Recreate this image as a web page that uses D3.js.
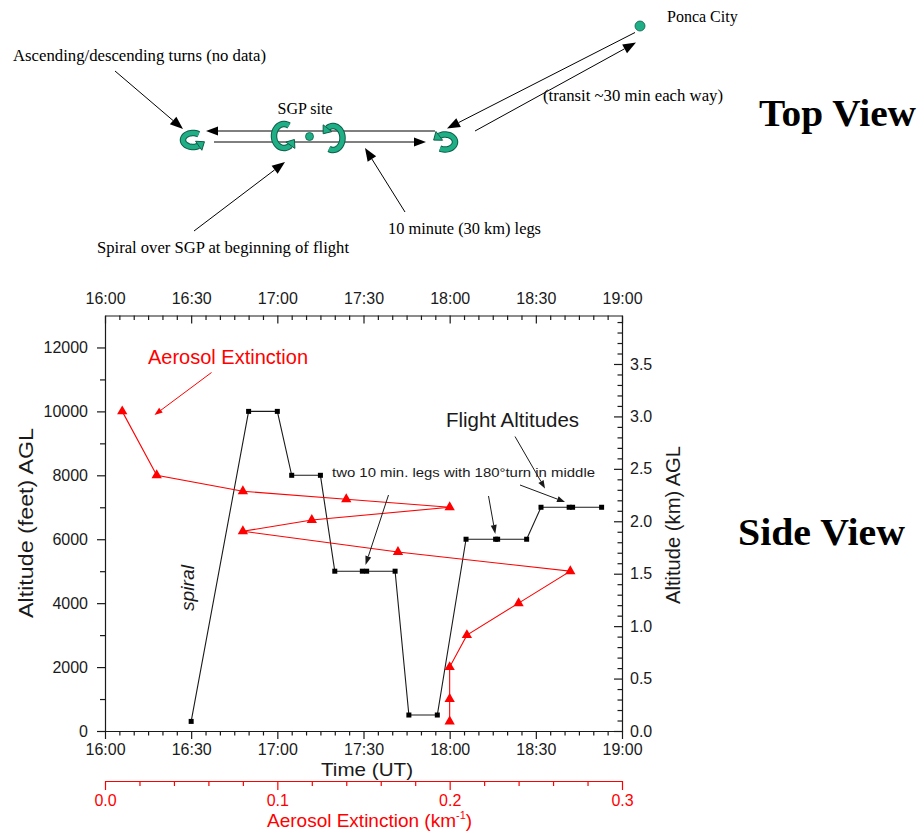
<!DOCTYPE html>
<html>
<head>
<meta charset="utf-8">
<script src="https://cdn.jsdelivr.net/npm/d3@7"></script>
<style>
  body { margin: 0; background: #fff; }
  svg { display: block; }
</style>
</head>
<body>
<svg id="fig" width="924" height="832"></svg>
<script>
// ---- Flight altitude track (time UT, altitude in feet AGL) ----
const flightTimes = [
  "16:30:00", "16:50:00", "17:00:00", "17:05:00", "17:15:00", "17:20:00",
  "17:29:36", "17:31:06", "17:41:00", "17:45:48", "17:55:42", "18:05:42",
  "18:16:00", "18:16:42", "18:26:48", "18:31:48", "18:41:36", "18:42:48", "18:52:54"
];
const flightAltFt = [
  300, 10000, 10000, 8000, 8000, 5000,
  5000, 5000, 5000, 500, 500, 6000,
  6000, 6000, 6000, 7000, 7000, 7000, 7000
];

// ---- Aerosol extinction profile (km^-1 against altitude in feet AGL) ----
const extinction = [0.01, 0.03, 0.08, 0.14, 0.20, 0.12, 0.08, 0.17, 0.27, 0.24, 0.21, 0.20, 0.20, 0.20];
const extinctionAltFt = [10000, 8000, 7500, 7250, 7000, 6600, 6250, 5600, 5000, 4000, 3000, 2000, 1000, 300];

// ---- Tick labels ----
const timeTickLabels = ["16:00", "16:30", "17:00", "17:30", "18:00", "18:30", "19:00"];
const altFtTicks = [0, 2000, 4000, 6000, 8000, 10000, 12000];
const altKmTicks = [0, 0.5, 1.0, 1.5, 2.0, 2.5, 3.0, 3.5];
const extTicks = [0, 0.1, 0.2, 0.3];

const SANS = "'Liberation Sans', Arial, Helvetica, sans-serif";
const SERIF = "'Liberation Serif', 'Times New Roman', Times, serif";
const RED = "#ff0000";
const INK = "#1a1a1a";
const TEAL = "#1fae85";
const TEAL_DARK = "#0b5e47";

const svg = d3.select("#fig");

// =====================================================================
// Top view: schematic of the flight pattern
// =====================================================================
const topView = svg.append("g").attr("class", "top-view");

function arrowLine(g, x1, y1, x2, y2, opt = {}) {
  const len = opt.len ?? 12, half = opt.half ?? 4.5, color = opt.color ?? "#000", w = opt.width ?? 1;
  const a = Math.atan2(y2 - y1, x2 - x1);
  const bx = x2 - len * Math.cos(a), by = y2 - len * Math.sin(a);
  g.append("line").attr("x1", x1).attr("y1", y1).attr("x2", bx).attr("y2", by)
    .attr("stroke", color).attr("stroke-width", w);
  const px = -Math.sin(a) * half, py = Math.cos(a) * half;
  g.append("path")
    .attr("d", `M${x2},${y2}L${bx + px},${by + py}L${bx - px},${by - py}Z`)
    .attr("fill", color);
}

// curved ribbon arrow used for the turns
function turnArrow(g, cx, cy, rx, ry, a0, a1) {
  const n = 40, pts = [];
  for (let i = 0; i <= n; i++) {
    const t = (a0 + (a1 - a0) * i / n) * Math.PI / 180;
    pts.push([cx + rx * Math.cos(t), cy + ry * Math.sin(t)]);
  }
  const headLen = 7;
  const end = pts[pts.length - 1], prev = pts[pts.length - 4];
  const ang = Math.atan2(end[1] - prev[1], end[0] - prev[0]);
  const body = pts.slice(0, pts.length - 3);
  const line = d3.line();
  g.append("path").attr("d", line(body)).attr("fill", "none")
    .attr("stroke", TEAL_DARK).attr("stroke-width", 6.5).attr("stroke-linecap", "butt");
  g.append("path").attr("d", line(body)).attr("fill", "none")
    .attr("stroke", TEAL).attr("stroke-width", 4.5).attr("stroke-linecap", "butt");
  const last = body[body.length - 1];
  const tip = [last[0] + headLen * Math.cos(ang), last[1] + headLen * Math.sin(ang)];
  const px = -Math.sin(ang) * 5.5, py = Math.cos(ang) * 5.5;
  g.append("path")
    .attr("d", `M${tip[0]},${tip[1]}L${last[0] + px},${last[1] + py}L${last[0] - px},${last[1] - py}Z`)
    .attr("fill", TEAL).attr("stroke", TEAL_DARK).attr("stroke-width", 1);
}

// legs between the turn points
arrowLine(topView, 435, 131, 206, 131, { len: 12, half: 4.5 });
arrowLine(topView, 214, 142, 426, 142, { len: 12, half: 4.5 });
// transit to/from Ponca City
arrowLine(topView, 635, 32.5, 447, 128.5, { len: 13, half: 5 });
arrowLine(topView, 475, 131, 636, 42.5, { len: 13, half: 5 });

// turns
turnArrow(topView, 193, 140, 10, 7, -55, -325);
turnArrow(topView, 284, 136, 10, 12, -60, -330);
turnArrow(topView, 333, 138, 9.5, 12, 115, -145);
turnArrow(topView, 445, 142, 10, 7.5, 120, -145);

// sites
const sites = [
  { name: "SGP site", cx: 309.5, cy: 136.5, r: 4, lx: 305, ly: 114, anchor: "middle" },
  { name: "Ponca City", cx: 640, cy: 26, r: 5, lx: 667, ly: 22, anchor: "start" }
];
topView.selectAll("circle.site").data(sites).join("circle").attr("class", "site")
  .attr("cx", d => d.cx).attr("cy", d => d.cy).attr("r", d => d.r)
  .attr("fill", TEAL).attr("stroke", TEAL_DARK).attr("stroke-width", 0.8);
topView.selectAll("text.site").data(sites).join("text").attr("class", "site")
  .attr("x", d => d.lx).attr("y", d => d.ly).attr("text-anchor", d => d.anchor)
  .attr("font-family", SERIF).attr("font-size", 16).attr("fill", "#000").text(d => d.name);

// callouts
const callouts = [
  { text: "Ascending/descending turns (no data)", x: 13, y: 61, len: 253, from: [115, 71], to: [183, 129] },
  { text: "Spiral over SGP at beginning of flight", x: 97, y: 253, len: 252, from: [194, 231], to: [285, 162] },
  { text: "10 minute (30 km) legs", x: 388, y: 234, len: 153, from: [405, 212], to: [365, 148] },
  { text: "(transit ~30 min each way)", x: 543, y: 101, len: 180 }
];
callouts.forEach(c => {
  topView.append("text").attr("x", c.x).attr("y", c.y)
    .attr("font-family", SERIF).attr("font-size", 16).attr("fill", "#000")
    .attr("textLength", c.len).attr("lengthAdjust", "spacingAndGlyphs").text(c.text);
  if (c.from) arrowLine(topView, c.from[0], c.from[1], c.to[0], c.to[1], { len: 13, half: 5 });
});

svg.append("text").attr("x", 759).attr("y", 126)
  .attr("font-family", SERIF).attr("font-weight", "bold").attr("font-size", 38)
  .attr("textLength", 157).attr("lengthAdjust", "spacingAndGlyphs").text("Top View");
svg.append("text").attr("x", 738).attr("y", 545)
  .attr("font-family", SERIF).attr("font-weight", "bold").attr("font-size", 38)
  .attr("textLength", 167).attr("lengthAdjust", "spacingAndGlyphs").text("Side View");

// =====================================================================
// Side view: altitude vs time with aerosol extinction profile
// =====================================================================
const plot = { left: 105, right: 622, top: 315.5, bottom: 731 };
const parseHMS = d3.utcParse("%H:%M:%S");
const parseHM = d3.utcParse("%H:%M");
const FT_PER_KM = 3280.84;

const x = d3.scaleUtc().domain([parseHM("16:00"), parseHM("19:00")]).range([plot.left, plot.right]);
const yFt = d3.scaleLinear().domain([0, 13000]).range([plot.bottom, plot.top]);
const yKm = d3.scaleLinear().domain([0, 13000 / FT_PER_KM]).range([plot.bottom, plot.top]);
const xExt = d3.scaleLinear().domain([0, 0.3]).range([plot.left, plot.right]);

const majorTimes = timeTickLabels.map(parseHM);
const minorTimes = d3.utcMinute.every(5).range(x.domain()[0], x.domain()[1])
  .filter(d => d.getUTCMinutes() % 30 !== 0);
const minorFt = d3.range(1000, 13000, 2000);
const minorKm = d3.range(1, 40).map(i => i / 10).filter(v => Math.round(v * 10) % 5 !== 0);
const minorExt = d3.range(1, 15).map(i => i * 0.02).filter((v, i) => (i + 1) % 5 !== 0);

function styleAxis(g, color, size) {
  g.select(".domain").attr("stroke", color).attr("stroke-width", 1.2);
  g.selectAll(".tick line").attr("stroke", color).attr("stroke-width", 1.2);
  g.selectAll(".tick text").attr("fill", color).attr("font-family", SANS).attr("font-size", size);
  g.attr("font-family", null).attr("font-size", null);
}
function minorAxis(axis, tr, color) {
  const g = svg.append("g").attr("transform", tr).call(axis);
  g.select(".domain").remove();
  g.selectAll(".tick line").attr("stroke", color).attr("stroke-width", 1.2);
  g.selectAll(".tick text").remove();
}
const fmtTime = d3.utcFormat("%H:%M");

// top time axis (ticks inward)
minorAxis(d3.axisTop(x).tickValues(minorTimes).tickSizeInner(-4.5).tickSizeOuter(0), `translate(0,${plot.top})`, INK);
svg.append("g").attr("transform", `translate(0,${plot.top})`)
  .call(d3.axisTop(x).tickValues(majorTimes).tickFormat(fmtTime).tickSizeInner(-8).tickSizeOuter(0).tickPadding(12))
  .call(g => styleAxis(g, INK, 16));

// bottom time axis (ticks outward)
minorAxis(d3.axisBottom(x).tickValues(minorTimes).tickSizeInner(4.5).tickSizeOuter(0), `translate(0,${plot.bottom})`, INK);
svg.append("g").attr("transform", `translate(0,${plot.bottom})`)
  .call(d3.axisBottom(x).tickValues(majorTimes).tickFormat(fmtTime).tickSizeInner(8).tickSizeOuter(0).tickPadding(5))
  .call(g => styleAxis(g, INK, 16));

// left altitude axis, feet
minorAxis(d3.axisLeft(yFt).tickValues(minorFt).tickSizeInner(5).tickSizeOuter(0), `translate(${plot.left},0)`, INK);
svg.append("g").attr("transform", `translate(${plot.left},0)`)
  .call(d3.axisLeft(yFt).tickValues(altFtTicks).tickFormat(d3.format("d")).tickSizeInner(8).tickSizeOuter(0).tickPadding(9))
  .call(g => styleAxis(g, INK, 16));

// right altitude axis, km (ticks inward)
minorAxis(d3.axisRight(yKm).tickValues(minorKm).tickSizeInner(-4.5).tickSizeOuter(0), `translate(${plot.right},0)`, INK);
svg.append("g").attr("transform", `translate(${plot.right},0)`)
  .call(d3.axisRight(yKm).tickValues(altKmTicks).tickFormat(d3.format(".1f")).tickSizeInner(-8).tickSizeOuter(0).tickPadding(8))
  .call(g => styleAxis(g, INK, 16));

// extinction axis (red, below the plot)
const extY = 781;
minorAxis(d3.axisBottom(xExt).tickValues(minorExt).tickSizeInner(5).tickSizeOuter(0), `translate(0,${extY})`, RED);
svg.append("g").attr("transform", `translate(0,${extY})`)
  .call(d3.axisBottom(xExt).tickValues(extTicks).tickFormat(d3.format(".1f")).tickSizeInner(9).tickSizeOuter(0).tickPadding(5))
  .call(g => styleAxis(g, RED, 16));

// axis titles
svg.append("text").attr("x", 367).attr("y", 776).attr("text-anchor", "middle")
  .attr("font-family", SANS).attr("font-size", 18.5).attr("fill", INK)
  .attr("textLength", 92).attr("lengthAdjust", "spacingAndGlyphs").text("Time (UT)");
const extTitle = svg.append("text").attr("x", 267).attr("y", 827)
  .attr("font-family", SANS).attr("font-size", 19).attr("fill", RED);
extTitle.append("tspan").text("Aerosol Extinction (km");
extTitle.append("tspan").attr("font-size", 11).attr("dy", -8).text("-1");
extTitle.append("tspan").attr("dy", 8).text(")");

svg.append("text").attr("transform", `translate(32.5,523) rotate(-90)`).attr("text-anchor", "middle")
  .attr("font-family", SANS).attr("font-size", 21).attr("fill", INK)
  .attr("textLength", 190).attr("lengthAdjust", "spacingAndGlyphs").text("Altitude (feet) AGL");
svg.append("text").attr("transform", `translate(679.5,525) rotate(-90)`).attr("text-anchor", "middle")
  .attr("font-family", SANS).attr("font-size", 20).attr("fill", INK)
  .attr("textLength", 158).attr("lengthAdjust", "spacingAndGlyphs").text("Altitude (km) AGL");

// flight altitude track
const flight = flightTimes.map((t, i) => ({ t: parseHMS(t), ft: flightAltFt[i] }));
svg.append("path").datum(flight)
  .attr("d", d3.line().x(d => x(d.t)).y(d => yFt(d.ft)))
  .attr("fill", "none").attr("stroke", INK).attr("stroke-width", 1.1);
svg.selectAll("rect.fl").data(flight).join("rect").attr("class", "fl")
  .attr("x", d => x(d.t) - 2.5).attr("y", d => yFt(d.ft) - 2.5)
  .attr("width", 5).attr("height", 5).attr("fill", "#000");

// aerosol extinction profile
const prof = extinction.map((e, i) => ({ e, ft: extinctionAltFt[i] }));
svg.append("path").datum(prof)
  .attr("d", d3.line().x(d => xExt(d.e)).y(d => yFt(d.ft)))
  .attr("fill", "none").attr("stroke", RED).attr("stroke-width", 1.1);
svg.selectAll("path.tri").data(prof).join("path").attr("class", "tri")
  .attr("transform", d => `translate(${xExt(d.e)},${yFt(d.ft)})`)
  .attr("d", d3.symbol(d3.symbolTriangle, 46)).attr("fill", RED);

// annotations
svg.append("text").attr("x", 148).attr("y", 364)
  .attr("font-family", SANS).attr("font-size", 20).attr("fill", RED)
  .attr("textLength", 160).attr("lengthAdjust", "spacingAndGlyphs").text("Aerosol Extinction");
arrowLine(svg, 211.5, 372.5, 154.5, 415, { len: 8, half: 3, color: RED });

svg.append("text").attr("x", 446).attr("y", 426.5)
  .attr("font-family", SANS).attr("font-size", 20).attr("fill", INK)
  .attr("textLength", 133).attr("lengthAdjust", "spacingAndGlyphs").text("Flight Altitudes");
arrowLine(svg, 515, 436.5, 545, 488.5, { len: 8, half: 3, color: INK });
arrowLine(svg, 520, 485, 565, 502, { len: 8, half: 3, color: INK });

svg.append("text").attr("x", 332).attr("y", 476.5)
  .attr("font-family", SANS).attr("font-size", 12.5).attr("fill", INK)
  .attr("textLength", 263).attr("lengthAdjust", "spacingAndGlyphs")
  .text("two 10 min. legs with 180°turn in middle");
arrowLine(svg, 388.5, 495, 365.5, 565, { len: 9, half: 3, color: INK });
arrowLine(svg, 488.5, 496, 495.3, 534, { len: 9, half: 3, color: INK });

svg.append("text").attr("transform", "translate(193.5,611) rotate(-90)")
  .attr("font-family", SANS).attr("font-style", "italic").attr("font-size", 18).attr("fill", INK)
  .attr("textLength", 46).attr("lengthAdjust", "spacingAndGlyphs").text("spiral");
</script>
</body>
</html>
